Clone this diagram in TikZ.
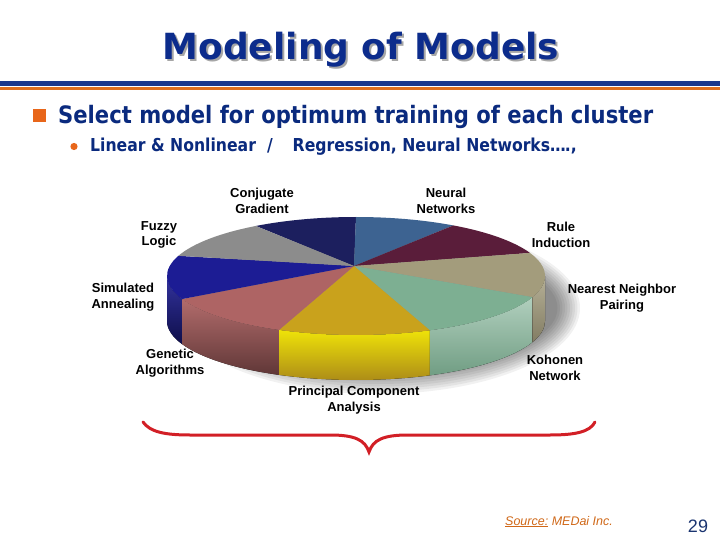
\documentclass[tikz,border=0pt]{standalone}
\usepackage{fontspec}
\setmainfont{Liberation Sans}
\newfontfamily\titlefont{DejaVu Sans}
\newfontfamily\condfont[FakeStretch=0.88]{DejaVu Sans}
\usetikzlibrary{calc}
\definecolor{titleblue}{HTML}{0C2C8C}
\definecolor{textblue}{HTML}{0A2A7E}
\definecolor{lineblue}{HTML}{1B388C}
\definecolor{lineorange}{HTML}{E0701E}
\definecolor{bulorange}{HTML}{E8661A}
\definecolor{srcorange}{HTML}{D06818}
\definecolor{numblue}{HTML}{1A3470}
\definecolor{bracered}{HTML}{D21F26}
\definecolor{cgnavy}{HTML}{1C1F5E}
\definecolor{nnblue}{HTML}{3D6391}
\definecolor{rimaroon}{HTML}{5A1D3A}
\definecolor{nntan}{HTML}{A39C7C}
\definecolor{kogreen}{HTML}{7DAF92}
\definecolor{pcyellow}{HTML}{C9A21C}
\definecolor{gapink}{HTML}{AE6464}
\definecolor{sablue}{HTML}{1C1C94}
\definecolor{flgrey}{HTML}{8C8C8C}
\tikzset{
  pielabel/.style={align=center, font=\bfseries\fontsize{13}{15.5}\selectfont, text=black},
  titletext/.style={anchor=base, font=\titlefont\bfseries\fontsize{36}{40}\selectfont},
}
\newcommand{\shadowtitle}[1]{\rlap{\kern2pt\raisebox{-2pt}{\textcolor{black!35}{#1}}}#1}
\begin{document}
\begin{tikzpicture}[x=1pt,y=1pt]
\useasboundingbox (0,0) rectangle (720,-540);
\fill[white] (0,0) rectangle (720,-540);
% title
\node[titletext, text=titleblue] (title) at (361,-60) {\shadowtitle{Modeling of Models}};
\fill[lineblue] (0,-81) rectangle (720,-86);
\fill[lineorange] (0,-87.5) rectangle (720,-90.5);
% bullets
\fill[bulorange] (33,-109) rectangle (46,-122);
\node[anchor=base west, text=textblue, font=\condfont\bfseries\fontsize{24}{28}\selectfont, inner sep=0pt] (b1) at (58,-124) {Select model for optimum training of each cluster};
\fill[bulorange] (74,-146.5) circle (3.6);
\node[anchor=base west, text=textblue, font=\condfont\bfseries\fontsize{17.8}{21}\selectfont, inner sep=0pt] (b2) at (90,-152) {Linear \& Nonlinear\hspace{11pt}/\hspace{20pt}Regression, Neural Networks…\kern-1pt.,};
% pie
\coordinate (C) at (356,-276);
\coordinate (V) at (354,-266);
\coordinate (B) at (356,-321);
% shadow
\foreach \i in {0,...,9}
  \fill[black, opacity=0.055] (378,-308) ellipse [x radius={202-2.5*\i}, y radius={86-2.5*\i}];
% sides
\foreach \a/\b/\tc/\bc in {-180/-157/sablue!90!white/sablue!50!black,
                           -157/-114/gapink!95!white/gapink!55!black,
                           -114/-67/yellow!70!pcyellow/pcyellow!85!black,
                           -67/-21/kogreen!60!white/kogreen!90!black,
                           -21/0/nntan!80!white/nntan!80!black}
  \fill[top color=\tc, bottom color=\bc]
    ($(C)+(\a:189pt and 59pt)$) arc[start angle=\a, end angle=\b, x radius=189pt, y radius=59pt]
    -- ($(B)+(\b:189pt and 59pt)$) arc[start angle=\b, end angle=\a, x radius=189pt, y radius=59pt] -- cycle;
% top face
\foreach \a/\b/\c in {90/122/cgnavy, 59/90/nnblue, 23/59/rimaroon, -21/23/nntan,
                      -67/-21/kogreen, -114/-67/pcyellow, -157/-114/gapink,
                      160/203/sablue, 122/160/flgrey}
  \fill[\c] (V) -- ($(C)+(\a:189pt and 59pt)$) arc[start angle=\a, end angle=\b, x radius=189pt, y radius=59pt] -- cycle;
% labels
\node[pielabel] (cg) at (262,-201) {Conjugate\\Gradient};
\node[pielabel] (nn) at (446,-201) {Neural\\Networks};
\node[pielabel] (fl) at (159,-235) {Fuzzy\\Logic};
\node[pielabel] (ri) at (561,-235) {Rule\\Induction};
\node[pielabel] (sa) at (123,-297) {Simulated\\Annealing};
\node[pielabel] (np) at (622,-298) {Nearest Neighbor\\Pairing};
\node[pielabel] (ga) at (170,-363) {Genetic\\Algorithms};
\node[pielabel] (kn) at (555,-368) {Kohonen\\Network};
\node[pielabel] (pca) at (354,-400) {Principal Component\\Analysis};
% brace
\draw[bracered, line width=3pt, line cap=round]
  (143,-422) .. controls (150,-432) and (165,-435) .. (190,-435)
  -- (330,-435) .. controls (355,-435) and (365,-440) .. (369,-452)
  .. controls (373,-440) and (383,-435) .. (408,-435)
  -- (550,-435) .. controls (575,-435) and (590,-432) .. (595,-422);
% footer
\node[anchor=base west, inner sep=0pt, text=srcorange, font=\itshape\fontsize{12.5}{14}\selectfont] (src) at (505,-525) {\underline{Source:} MEDai Inc.};
\node[anchor=base, inner sep=0pt, text=numblue, font=\fontsize{18}{20}\selectfont] (num) at (698,-532) {29};
\end{tikzpicture}
\end{document}
